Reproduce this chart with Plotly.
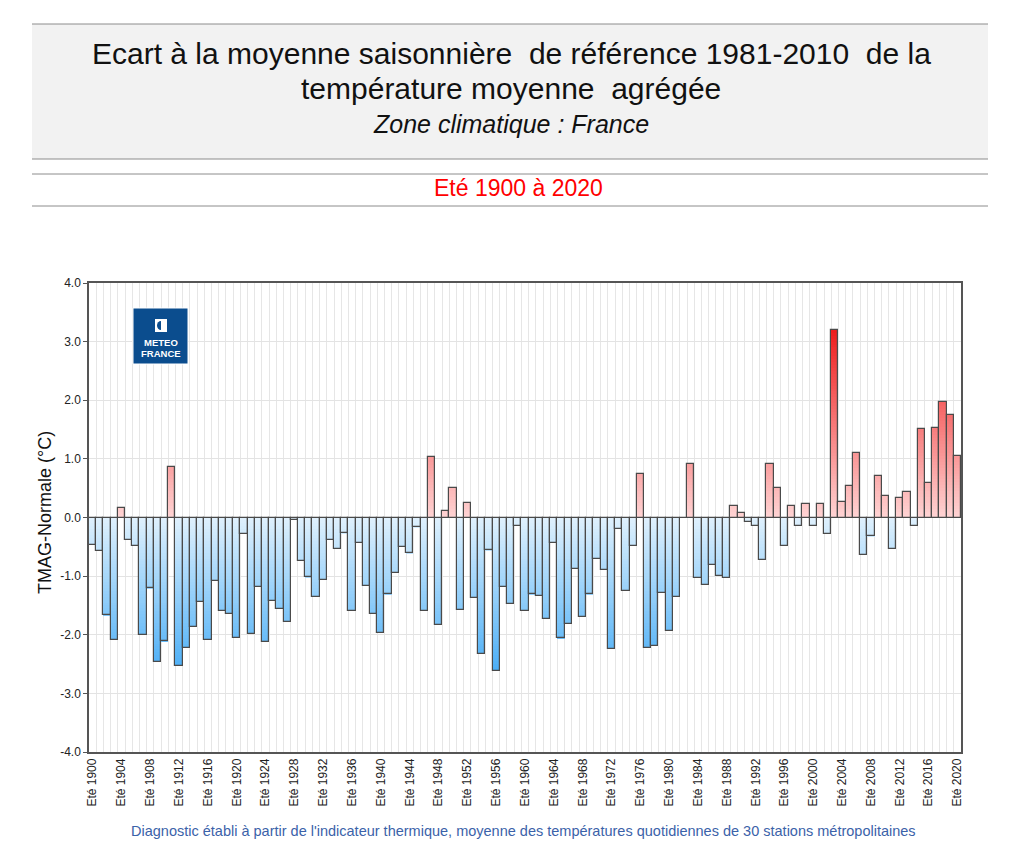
import plotly.graph_objects as go
import numpy as np

years = list(range(1900, 2021))
anomalies = [
    -0.47, -0.57, -1.67, -2.09, 0.16, -0.39, -0.49, -2.00, -1.21, -2.46,
    -2.11, 0.87, -2.54, -2.23, -1.87, -1.44, -2.09, -1.09, -1.60, -1.64,
    -2.05, -0.28, -1.98, -1.18, -2.13, -1.43, -1.56, -1.79, -0.05, -0.74,
    -1.02, -1.35, -1.06, -0.38, -0.53, -0.27, -1.59, -0.43, -1.16, -1.65,
    -1.97, -1.31, -0.94, -0.50, -0.61, -0.17, -1.60, 1.04, -1.84, 0.11,
    0.51, -1.57, 0.25, -1.38, -2.32, -0.56, -2.61, -1.19, -1.47, -0.15,
    -1.59, -1.31, -1.34, -1.73, -0.44, -2.06, -1.81, -0.87, -1.70, -1.31,
    -0.70, -0.90, -2.25, -0.20, -1.25, -0.49, 0.74, -2.22, -2.20, -1.29,
    -1.93, -1.35, 0.00, 0.92, -1.03, -1.15, -0.81, -0.99, -1.03, 0.19,
    0.08, -0.08, -0.14, -0.73, 0.92, 0.51, -0.48, 0.19, -0.15, 0.23,
    -0.15, 0.23, -0.28, 3.19, 0.27, 0.54, 1.10, -0.64, -0.32, 0.70,
    0.36, -0.54, 0.34, 0.43, -0.14, 1.51, 0.59, 1.52, 1.97, 1.75,
    1.05,
]
tick_years = list(range(1900, 2021, 4))
tick_labels = ["Eté %d" % y for y in tick_years]
y_ticks = [-4, -3, -2, -1, 0, 1, 2, 3, 4]
y_tick_labels = ["%.1f" % v for v in y_ticks]

title_l1 = "Ecart à la moyenne saisonnière  de référence 1981-2010  de la"
title_l2 = "température moyenne  agrégée"
zone = "Zone climatique : France"
period = "Eté 1900 à 2020"
footer = ("Diagnostic établi à partir de l'indicateur thermique, moyenne des "
          "températures quotidiennes de 30 stations métropolitaines")
y_title = "TMAG-Normale (°C)"

# gradient colours (by absolute value)
blue0, blue1, blue_max = (224, 241, 253), (70, 172, 246), 2.7
red0, red1, red_max = (255, 212, 212), (238, 28, 28), 3.2


def mix(c0, c1, t):
    t = max(0.0, min(1.0, t))
    return "rgb(%d,%d,%d)" % tuple(round(a + (b - a) * t) for a, b in zip(c0, c1))


vals = np.array(anomalies)
step = 0.05
n_levels = int(np.ceil(np.abs(vals).max() / step))

FONT = "Liberation Sans, Arial, sans-serif"

fig = go.Figure()
for k in range(n_levels):
    lo = k * step
    seg = np.clip(np.abs(vals) - lo, 0, step) * np.sign(vals)
    mid = lo + step / 2
    cols = [mix(red0, red1, mid / red_max) if v > 0 else mix(blue0, blue1, mid / blue_max)
            for v in vals]
    fig.add_trace(go.Bar(
        x=years, y=seg, marker=dict(color=cols, line=dict(width=0)),
        hoverinfo="skip", showlegend=False, xaxis="x", yaxis="y",
    ))

# outlines on overlay axes
fig.add_trace(go.Bar(
    x=years, y=anomalies,
    marker=dict(color="rgba(0,0,0,0)", line=dict(color="#4a4a4a", width=1.2)),
    showlegend=False, xaxis="x2", yaxis="y2",
    hovertemplate="%{x}: %{y:.2f} °C<extra></extra>",
))

xr = [1899.5, 2020.5]
yr = [-4, 4]
fig.update_layout(
    width=1003, height=850,
    margin=dict(l=81, r=50, t=275, b=106, autoexpand=False),
    paper_bgcolor="white", plot_bgcolor="white",
    barmode="relative", bargap=0,
    font=dict(family=FONT, color="#222"),
    xaxis=dict(
        range=xr, tickmode="array", tickvals=tick_years, ticktext=tick_labels,
        tickangle=-90, tickfont=dict(size=12, color="#222"), showgrid=False,
        showline=True, linecolor="#555", linewidth=1.5, mirror=True, ticks="",
        minor=dict(tick0=1899.5, dtick=1, showgrid=True, gridcolor="#e6e6e6", gridwidth=1),
        zeroline=False,
    ),
    yaxis=dict(
        range=yr, tickmode="array", tickvals=y_ticks, ticktext=y_tick_labels,
        tickfont=dict(size=12, color="#222"), showgrid=True, gridcolor="#e3e3e3",
        showline=True, linecolor="#555", linewidth=1.5, mirror=True,
        ticks="outside", ticklen=4, tickcolor="#555",
        zeroline=True, zerolinecolor="#444", zerolinewidth=1,
    ),
    xaxis2=dict(range=xr, overlaying="x", visible=False),
    yaxis2=dict(range=yr, overlaying="y", visible=False),
)

# header / footer decoration (paper coordinates from page pixel positions)
W, L, T, B = 872.0, 89.0, 283.0, 752.0
H = B - T


def px(x):
    return (x - L) / W


def py(y):
    return (B - y) / H


shapes = [
    dict(type="rect", xref="paper", yref="paper", x0=px(32), x1=px(988), y0=py(159), y1=py(24),
         fillcolor="#f2f2f2", line=dict(width=0), layer="below"),
]
for yy in (24, 159, 174, 206):
    shapes.append(dict(type="line", xref="paper", yref="paper", x0=px(32), x1=px(988),
                       y0=py(yy), y1=py(yy), line=dict(color="#8c8c8c", width=1)))
# logo
shapes.append(dict(type="rect", xref="paper", yref="paper", x0=px(133), x1=px(188),
                   y0=py(364), y1=py(308), fillcolor="#0b4d8e", line=dict(color="white", width=1)))
shapes.append(dict(type="rect", xref="paper", yref="paper", x0=px(155), x1=px(167),
                   y0=py(332), y1=py(319), fillcolor="white", line=dict(width=0)))
shapes.append(dict(type="circle", xref="paper", yref="paper", x0=px(157), x1=px(165),
                   y0=py(330), y1=py(321), fillcolor="#0b4d8e", line=dict(width=0)))
shapes.append(dict(type="rect", xref="paper", yref="paper", x0=px(161), x1=px(165),
                   y0=py(330), y1=py(321), fillcolor="white", line=dict(width=0)))
fig.update_layout(shapes=shapes)

ann = [
    dict(text=title_l1, x=px(511), y=py(53), size=30, color="#111", angle=0),
    dict(text=title_l2, x=px(511), y=py(88), size=30, color="#111", angle=0),
    dict(text="<i>" + zone + "</i>", x=px(511), y=py(124), size=25, color="#111", angle=0),
    dict(text=period, x=px(518), y=py(188), size=23, color="#ff0000", angle=0),
    dict(text=footer, x=px(523), y=py(831), size=14.5, color="#3b62a9", angle=0),
    dict(text="<b>METEO</b>", x=px(161), y=py(342), size=9.5, color="white", angle=0),
    dict(text="<b>FRANCE</b>", x=px(161), y=py(353), size=9.5, color="white", angle=0),
    dict(text=y_title, x=px(45), y=py(513), size=18, color="#111", angle=-90),
]
for a in ann:
    fig.add_annotation(text=a["text"], x=a["x"], y=a["y"], xref="paper", yref="paper",
                       showarrow=False, xanchor="center", yanchor="middle",
                       textangle=a["angle"],
                       font=dict(size=a["size"], color=a["color"], family=FONT))

fig.write_html("out.html")
